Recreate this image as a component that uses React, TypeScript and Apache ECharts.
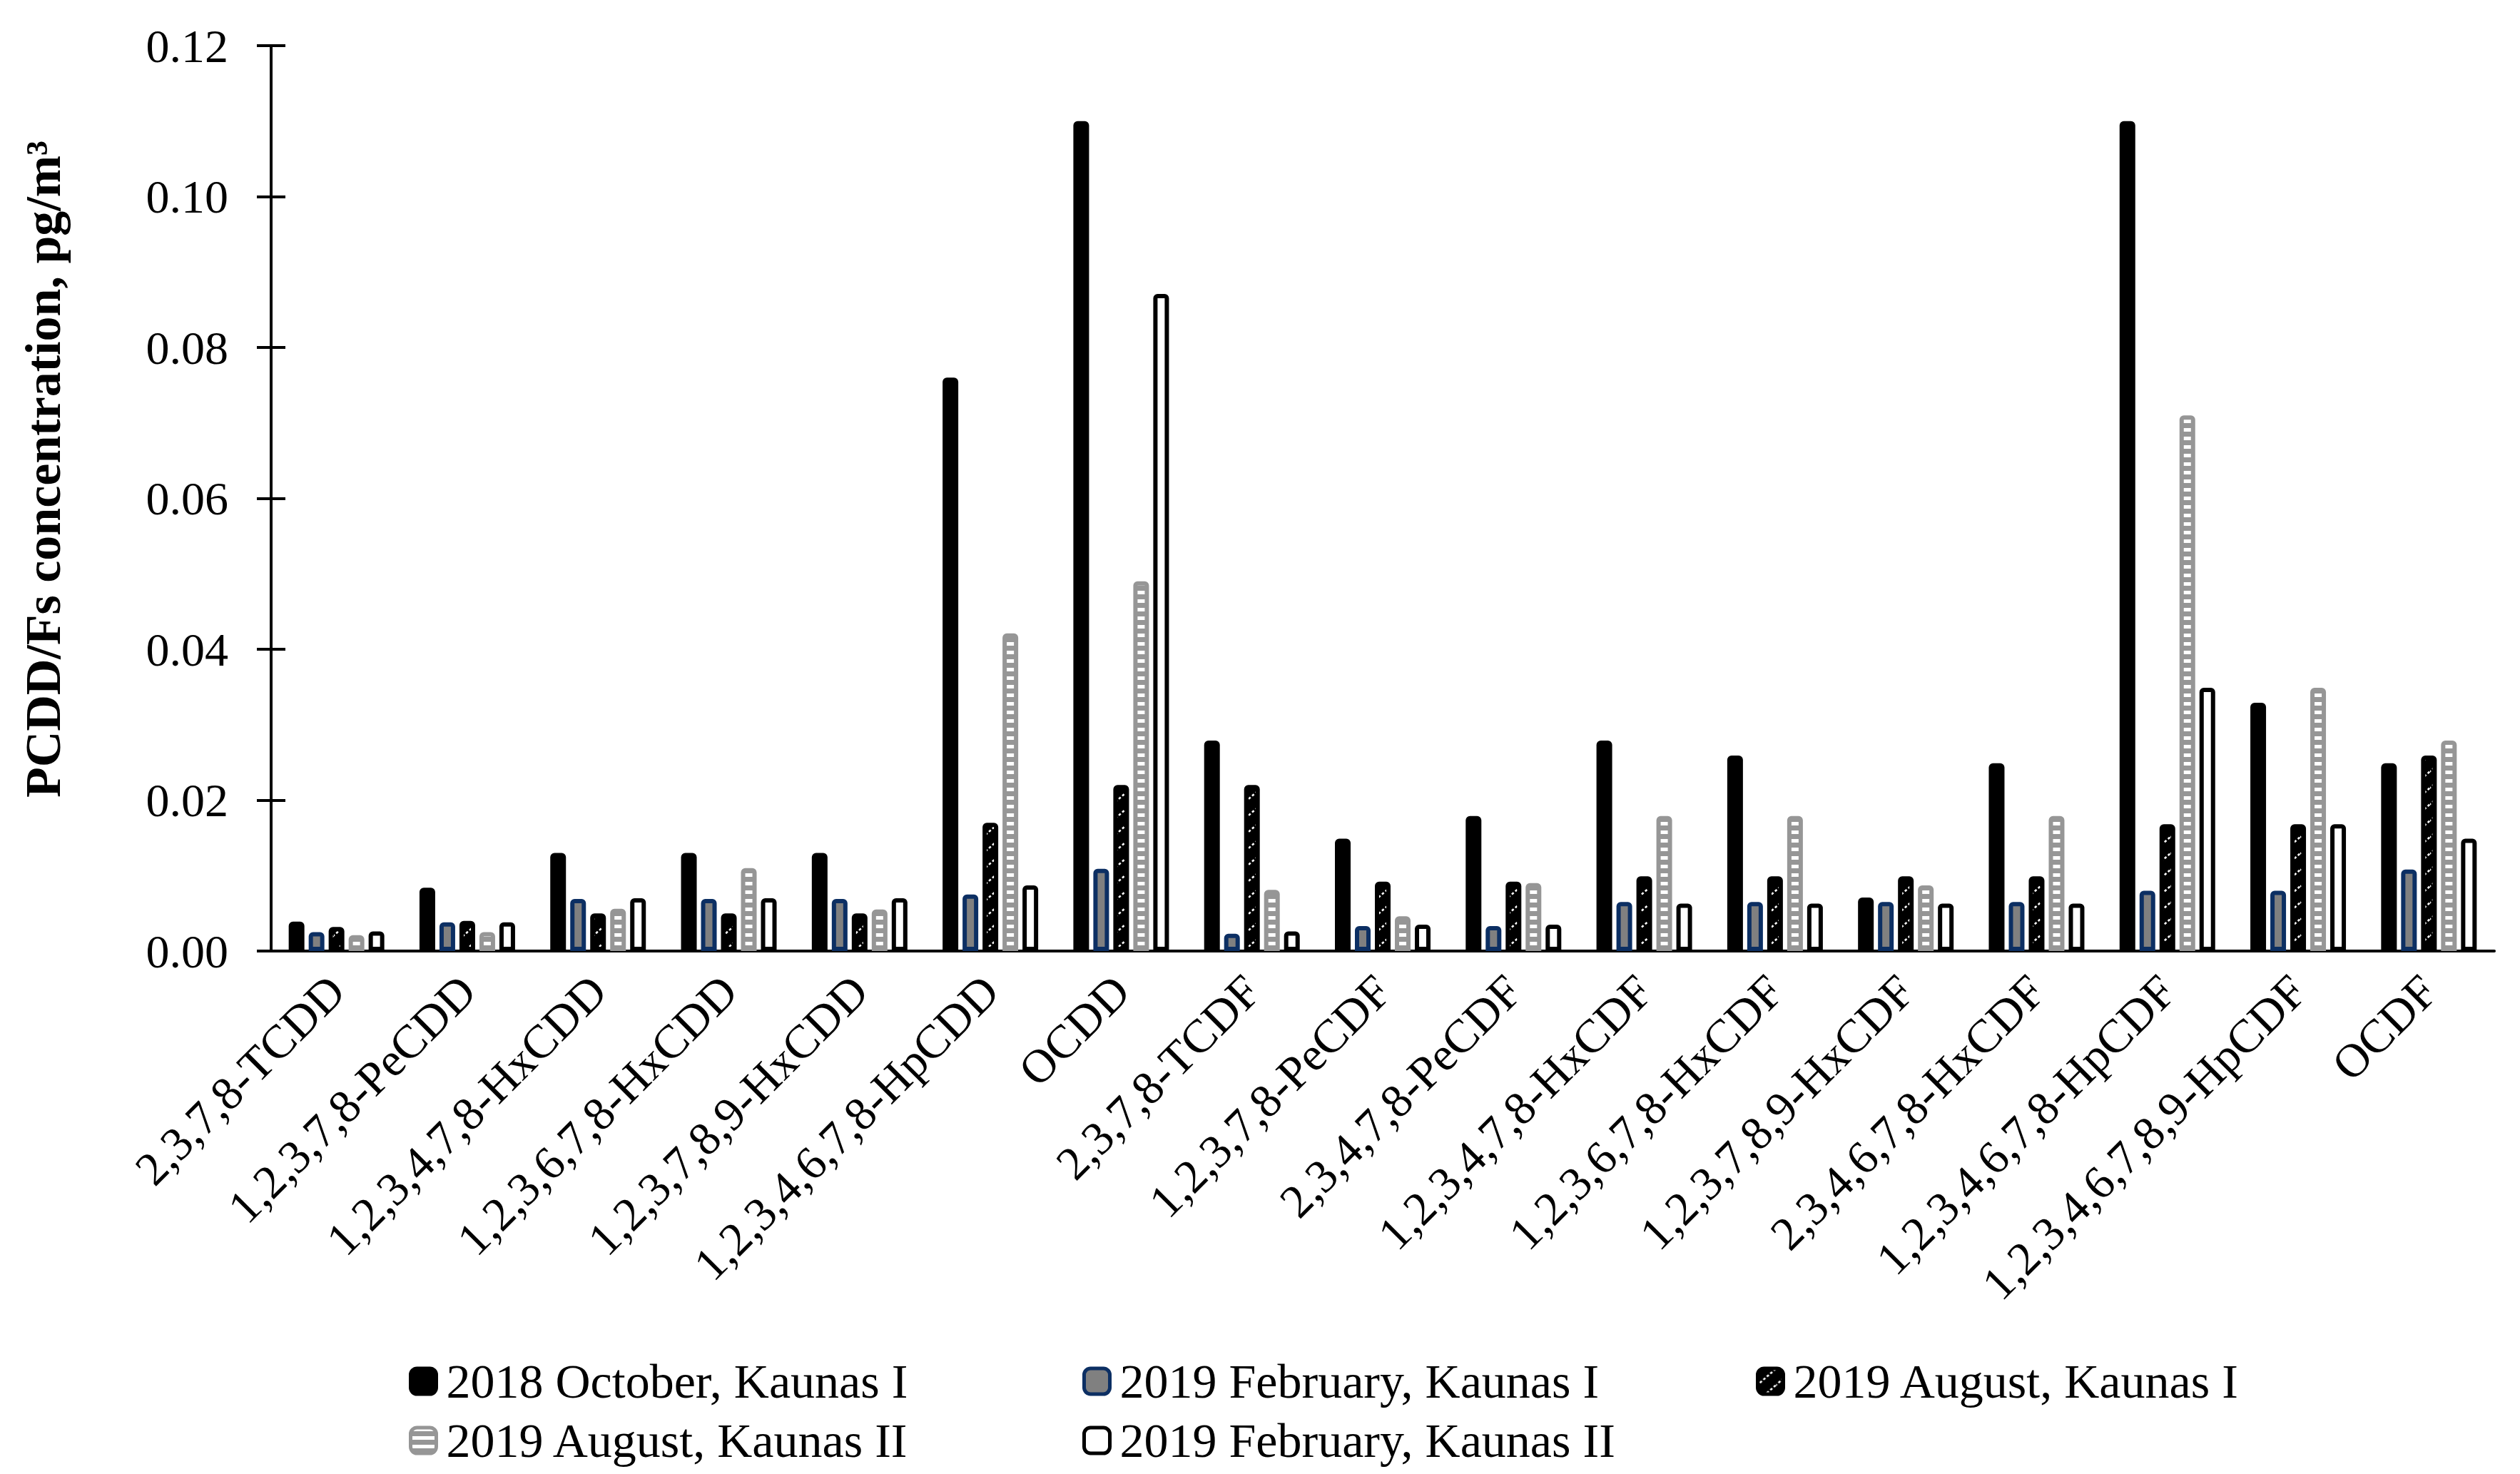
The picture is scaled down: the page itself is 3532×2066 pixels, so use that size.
import { useEffect, useRef } from 'react';
import * as echarts from 'echarts';

const categories = [
  '2,3,7,8-TCDD', '1,2,3,7,8-PeCDD', '1,2,3,4,7,8-HxCDD', '1,2,3,6,7,8-HxCDD',
  '1,2,3,7,8,9-HxCDD', '1,2,3,4,6,7,8-HpCDD', 'OCDD', '2,3,7,8-TCDF',
  '1,2,3,7,8-PeCDF', '2,3,4,7,8-PeCDF', '1,2,3,4,7,8-HxCDF', '1,2,3,6,7,8-HxCDF',
  '1,2,3,7,8,9-HxCDF', '2,3,4,6,7,8-HxCDF', '1,2,3,4,6,7,8-HpCDF',
  '1,2,3,4,6,7,8,9-HpCDF', 'OCDF',
];

const seriesNames = [
  '2018 October, Kaunas I',
  '2019 February, Kaunas I',
  '2019 August, Kaunas I',
  '2019 August, Kaunas II',
  '2019 February, Kaunas II',
];

const oct2018KaunasI = [0.0039, 0.0084, 0.013, 0.013, 0.013, 0.076, 0.110, 0.0279, 0.0149, 0.0179, 0.0279, 0.0259, 0.0071, 0.0249, 0.110, 0.0329, 0.0249];
const feb2019KaunasI = [0.0025, 0.0038, 0.0069, 0.0069, 0.0069, 0.0075, 0.0109, 0.0023, 0.0033, 0.0033, 0.0065, 0.0065, 0.0065, 0.0065, 0.008, 0.008, 0.0108];
const aug2019KaunasI = [0.0032, 0.004, 0.005, 0.005, 0.005, 0.017, 0.022, 0.022, 0.0092, 0.0092, 0.0099, 0.0099, 0.0099, 0.0099, 0.0168, 0.0168, 0.0259];
const aug2019KaunasII = [0.0021, 0.0025, 0.0056, 0.011, 0.0055, 0.0421, 0.049, 0.0081, 0.0046, 0.009, 0.0179, 0.0179, 0.0087, 0.0179, 0.071, 0.0349, 0.0279];
const feb2019KaunasII = [0.0026, 0.0038, 0.007, 0.007, 0.007, 0.0087, 0.0871, 0.0026, 0.0035, 0.0035, 0.0063, 0.0063, 0.0063, 0.0063, 0.0349, 0.0168, 0.0149];

const yMin = 0;
const yMax = 0.12;
const yInterval = 0.02;

const FONT = "'Times New Roman', 'Liberation Serif', serif";

function makeHatch() {
  const w = 26, h = 23;
  const c = document.createElement('canvas');
  c.width = w; c.height = h;
  const ctx = c.getContext('2d')!;
  ctx.fillStyle = '#000';
  ctx.fillRect(0, 0, w, h);
  ctx.strokeStyle = '#fff';
  ctx.lineWidth = 2.6;
  ctx.setLineDash([3.5, 3]);
  for (const k of [0, 1, 2]) {
    ctx.beginPath();
    ctx.moveTo(-w, h * (k + 1));
    ctx.lineTo(2 * w, h * (k - 2));
    ctx.stroke();
  }
  return { image: c.toDataURL(), repeat: 'repeat', imageWidth: w, imageHeight: h };
}

function makeLadder() {
  const w = 4, h = 12;
  const c = document.createElement('canvas');
  c.width = w; c.height = h;
  const ctx = c.getContext('2d')!;
  ctx.fillStyle = '#969696';
  ctx.fillRect(0, 0, w, h);
  ctx.fillStyle = '#ffffff';
  ctx.fillRect(0, 0, w, 5);
  return { image: c.toDataURL(), repeat: 'repeat', imageWidth: w, imageHeight: h };
}

export default function App() {
  const ref = useRef<HTMLDivElement>(null);
  useEffect(() => {
    if (!ref.current) return;
    const chart = echarts.init(ref.current, null, { renderer: 'svg' });
    const hatch = makeHatch();
    const ladder = makeLadder();
    const values = [oct2018KaunasI, feb2019KaunasI, aug2019KaunasI, aug2019KaunasII, feb2019KaunasII];
    const styles: any[] = [
      { color: '#000000', borderColor: '#000000' },
      { color: '#808080', borderColor: '#0c2f63' },
      { color: hatch, borderColor: '#000000' },
      { color: ladder, borderColor: '#969696' },
      { color: '#ffffff', borderColor: '#000000' },
    ];
    const series = values.map((v, i) => ({
      name: seriesNames[i],
      type: 'bar',
      data: v,
      barWidth: 22,
      barGap: '27.27%',
      itemStyle: { ...styles[i], borderWidth: 6, borderRadius: [3, 3, 0, 0] },
      emphasis: { disabled: true },
    }));
    const legendPos = [[568, 1897], [1512, 1897], [2456, 1897], [568, 1980], [1512, 1980]];
    const legend = seriesNames.map((n, i) => ({
      data: [n],
      left: legendPos[i][0],
      top: legendPos[i][1],
      orient: 'horizontal',
      icon: 'roundRect',
      itemWidth: 36,
      itemHeight: 36,
      itemStyle: { borderWidth: 5 },
      selectedMode: false,
      textStyle: { fontSize: 68, fontFamily: FONT, color: '#000', padding: [0, 0, 0, 9] },
    }));
    chart.setOption({
      animation: false,
      backgroundColor: '#ffffff',
      grid: { left: 380, right: 36, top: 64, bottom: 733, containLabel: false },
      legend,
      xAxis: {
        type: 'category',
        data: categories,
        axisLine: { lineStyle: { color: '#000', width: 4 } },
        axisTick: { show: false },
        axisLabel: {
          interval: 0,
          rotate: 45,
          fontSize: 66,
          fontFamily: FONT,
          color: '#000',
          margin: 45,
        },
      },
      yAxis: [
        {
          type: 'value',
          min: yMin,
          max: yMax,
          interval: yInterval,
          name: 'PCDD/Fs concentration, pg/m³',
          nameLocation: 'middle',
          nameGap: 285,
          nameTextStyle: { fontSize: 70, fontWeight: 'bold', fontFamily: FONT, color: '#000', padding: [0, 0, 0, 82] },
          axisLine: { show: true, lineStyle: { color: '#000', width: 4 } },
          axisTick: { show: true, length: 20, lineStyle: { color: '#000', width: 4 } },
          axisLabel: {
            fontSize: 66, fontFamily: FONT, color: '#000', margin: 60,
            formatter: (v: number) => v.toFixed(2),
          },
          splitLine: { show: false },
        },
        {
          type: 'value',
          min: yMin,
          max: yMax,
          interval: yInterval,
          position: 'left',
          axisLine: { show: false },
          axisTick: { show: true, inside: true, length: 20, lineStyle: { color: '#000', width: 4 } },
          axisLabel: { show: false },
          splitLine: { show: false },
        },
      ],
      series,
    });
    return () => chart.dispose();
  }, []);
  return (
    <div
      ref={ref}
      style={{ position: 'fixed', left: 0, top: 0, width: 3532, height: 2066, background: '#fff' }}
    />
  );
}
